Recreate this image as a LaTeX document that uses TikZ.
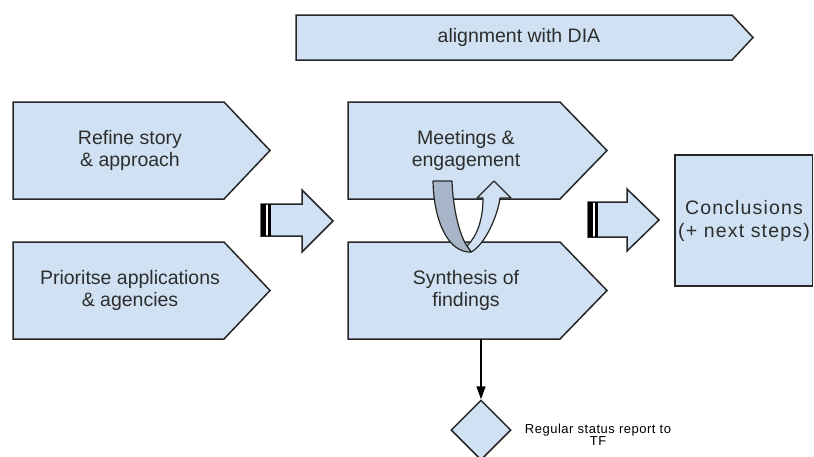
\documentclass[tikz,border=0pt]{standalone}
\usepackage{fontspec}
\setmainfont{Liberation Sans}
\newfontfamily\spacedface[LetterSpace=6]{Liberation Sans}
\newfontfamily\smallface[LetterSpace=4]{Liberation Sans}
\usetikzlibrary{shapes.geometric,arrows.meta}
\definecolor{boxblue}{RGB}{207,225,242}
\definecolor{twistblue}{RGB}{166,182,200}
\definecolor{inkgray}{RGB}{45,45,45}
\tikzset{
  tagbox/.style={draw=black!85, fill=boxblue, line width=1.5pt, line join=miter},
  tagtext/.style={text=inkgray, align=center, font=\fontsize{19.5}{22}\selectfont},
  endtext/.style={text=inkgray, align=center, font=\spacedface\fontsize{19.5}{23}\selectfont},
  notetext/.style={text=black, align=center, font=\smallface\fontsize{13}{12}\selectfont},
}

\begin{document}
\begin{tikzpicture}[x=1pt, y=-1pt]
    \useasboundingbox (0,0) rectangle (814,456);

    % Draw the banner across the top
    \draw[tagbox] (296,15) -- (732,15) -- (753,37.5) -- (732,60) -- (296,60) -- cycle;
    \node[tagtext] (dia) at (519,37.5) {alignment with DIA};

    % Draw the two first-stage boxes
    \draw[tagbox] (13,102) -- (224,102) -- (270,150.5) -- (224,199) -- (13,199) -- cycle;
    \node[tagtext] (refine) at (130,150.5) {Refine story\\\& approach};
    \draw[tagbox] (13,242) -- (224,242) -- (270,290.5) -- (224,339) -- (13,339) -- cycle;
    \node[tagtext] (prioritise) at (130,290.5) {Prioritse applications\\\& agencies};

    % Draw the two second-stage boxes
    \draw[tagbox] (348,102) -- (560,102) -- (607,150.5) -- (560,199) -- (348,199) -- cycle;
    \node[tagtext] (meetings) at (466,150.5) {Meetings \&\\engagement};
    \draw[tagbox] (348,242) -- (560,242) -- (607,290.5) -- (560,339) -- (348,339) -- cycle;
    \node[tagtext] (synthesis) at (466,290.5) {Synthesis of\\findings};
    \coordinate (synthbase) at (481,339);

    % Draw the conclusions box
    \draw[tagbox] (675,155) rectangle (812.5,286);
    \node[endtext] (conclusions) at (744,221) {Conclusions\\(+ next steps)};

    % Draw the striped block arrows between stages
    \draw[tagbox] (261,204) -- (302,204) -- (302,190) -- (333,221) -- (302,252) -- (302,236) -- (261,236) -- cycle;
    \fill[black] (261,204) rectangle (266,236);
    \fill[white] (266,205) rectangle (268,235);
    \fill[black] (268,204) rectangle (270.5,236);
    \draw[tagbox] (588,202) -- (627,202) -- (627,189) -- (659,220) -- (627,251) -- (627,237) -- (588,237) -- cycle;
    \fill[black] (588,202) rectangle (593,237);
    \fill[white] (593,203) rectangle (595,236);
    \fill[black] (595,202) rectangle (597.5,237);

    % Draw the U-turn between meetings and synthesis
    \draw[fill=boxblue, draw=black!85, line width=1.2pt, line join=round]
        (467,246) .. controls (477,236) and (483,220) .. (483,198) -- (477,198) -- (494,181)
        -- (511,198) -- (500,198) .. controls (498,215) and (485,245) .. (471,252) -- cycle;
    \draw[fill=twistblue, draw=black!85, line width=1.2pt, line join=round]
        (433,181) -- (452,181) .. controls (453,210) and (460,236) .. (467,246) -- (471,252)
        .. controls (450,253) and (434,225) .. (433,181) -- cycle;

    % Draw the status report
    \node[diamond, draw=black!85, fill=boxblue, line width=1.5pt, minimum width=60pt, minimum height=60pt, inner sep=0pt] (report) at (481,430) {};
    \draw[-{Triangle[length=13pt, width=9pt]}, line width=1.5pt] (synthbase) -- (report.north);
    \node[notetext] (reportnote) at (598,435) {Regular status report to\\TF};
\end{tikzpicture}
\end{document}
